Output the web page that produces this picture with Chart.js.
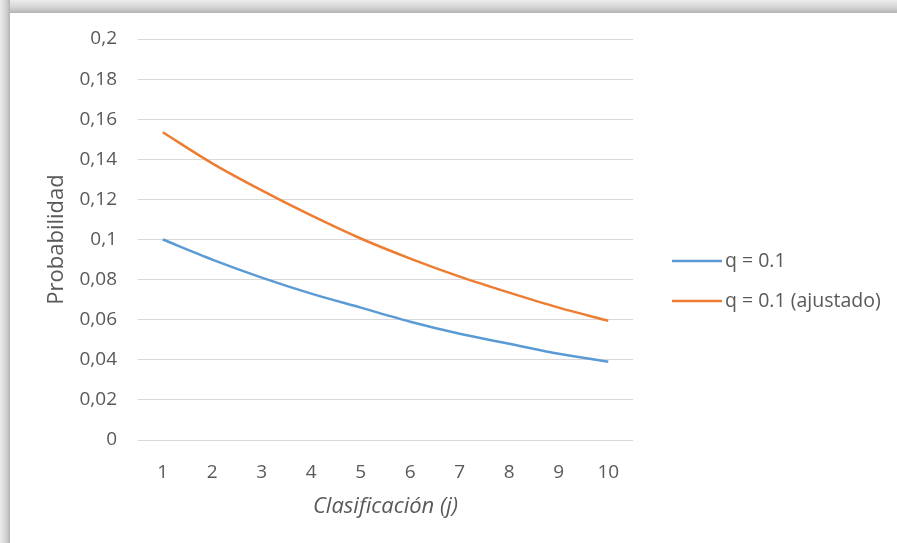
<!DOCTYPE html>
<html>
<head>
<meta charset="utf-8">
<script src="https://cdnjs.cloudflare.com/ajax/libs/Chart.js/4.4.0/chart.umd.min.js"></script>
<style>
  html,body{margin:0;padding:0;background:#fff;overflow:hidden}
  #page{position:relative;width:897px;height:543px;background:#fff}
  #shadow-top{position:absolute;left:0;top:0;width:897px;height:13px;
    background:linear-gradient(to bottom,#ececec,#d2d2d2 60%,#b4b4b4)}
  #shadow-left{position:absolute;left:0;top:0;width:10px;height:543px;
    background:linear-gradient(to right,#ececec,#d2d2d2 60%,#b4b4b4)}
  #wrap{position:absolute;left:10px;top:13px;width:887px;height:530px;background:#fff}
</style>
</head>
<body>
<div id="page">
  <div id="shadow-top"></div>
  <div id="shadow-left"></div>
  <div id="wrap"><canvas id="c-prob" width="887" height="530"></canvas></div>
</div>
<script>
// valores
const categories = ['1','2','3','4','5','6','7','8','9','10'];
const serieQ     = [0.100, 0.090, 0.081, 0.073, 0.066, 0.059, 0.053, 0.048, 0.043, 0.039];
const serieAjust = [0.1535, 0.138, 0.1245, 0.112, 0.1005, 0.0905, 0.0815, 0.0735, 0.066, 0.0595];
const seriesNames = ['q = 0.1', 'q = 0.1 (ajustado)'];
const yTicks = { min: 0, max: 0.2, step: 0.02 };

const FONT = '"Open Sans", "Noto Sans", sans-serif';
const TXT = '#595959';

// leyenda a la derecha, estilo Excel (línea + texto)
const sideLegend = {
  id: 'sideLegend',
  afterDraw(chart) {
    const { ctx, chartArea } = chart;
    const mid = (chartArea.top + chartArea.bottom) / 2 + 41.5;
    const x0 = chartArea.right + 39;
    ctx.save();
    ctx.font = '19.5px ' + FONT;
    ctx.textBaseline = 'middle';
    chart.data.datasets.forEach((ds, i) => {
      const y = mid + (i - 0.5) * 40;
      ctx.strokeStyle = ds.borderColor;
      ctx.lineWidth = 2.5;
      ctx.beginPath(); ctx.moveTo(x0, y); ctx.lineTo(x0 + 50, y); ctx.stroke();
      ctx.fillStyle = TXT;
      ctx.fillText(ds.label, x0 + 53, y);
    });
    ctx.restore();
  }
};

new Chart(document.getElementById('c-prob'), {
  type: 'line',
  data: {
    labels: categories,
    datasets: [
      { label: seriesNames[0], data: serieQ, borderColor: '#5B9BD5', backgroundColor: '#5B9BD5',
        borderWidth: 2.5, pointRadius: 0, tension: 0.3, fill: false },
      { label: seriesNames[1], data: serieAjust, borderColor: '#ED7D31', backgroundColor: '#ED7D31',
        borderWidth: 2.5, pointRadius: 0, tension: 0.3, fill: false },
    ]
  },
  options: {
    responsive: false, animation: false,
    layout: { padding: { left: 0, top: 26, right: 264, bottom: 23 } },
    plugins: { legend: { display: false }, tooltip: { enabled: false } },
    scales: {
      x: {
        offset: true,
        grid: { display: false },
        border: { display: false },
        ticks: { color: TXT, font: { family: FONT, size: 19 }, padding: 13 },
        title: { display: true, text: 'Clasificación (j)', color: TXT,
                 font: { family: FONT, size: 22, style: 'italic' }, padding: { top: 0, bottom: 0 } },
        afterFit: s => { s.height = 80; s.paddingLeft = 0; s.paddingRight = 0; }
      },
      y: {
        min: yTicks.min, max: yTicks.max,
        grid: { color: '#d9d9d9', lineWidth: 1, drawTicks: false },
        border: { display: false },
        ticks: { stepSize: yTicks.step, color: TXT, font: { family: FONT, size: 19 }, padding: 21,
                 callback: v => String(+v.toFixed(2)).replace('.', ',') },
        title: { display: true, text: 'Probabilidad', color: TXT,
                 font: { family: FONT, size: 22 }, padding: { top: 34, bottom: 0 } },
        afterFit: s => { s.width = 128; s.paddingTop = 0; s.paddingBottom = 0; }
      }
    }
  },
  plugins: [sideLegend]
});
</script>
</body>
</html>
